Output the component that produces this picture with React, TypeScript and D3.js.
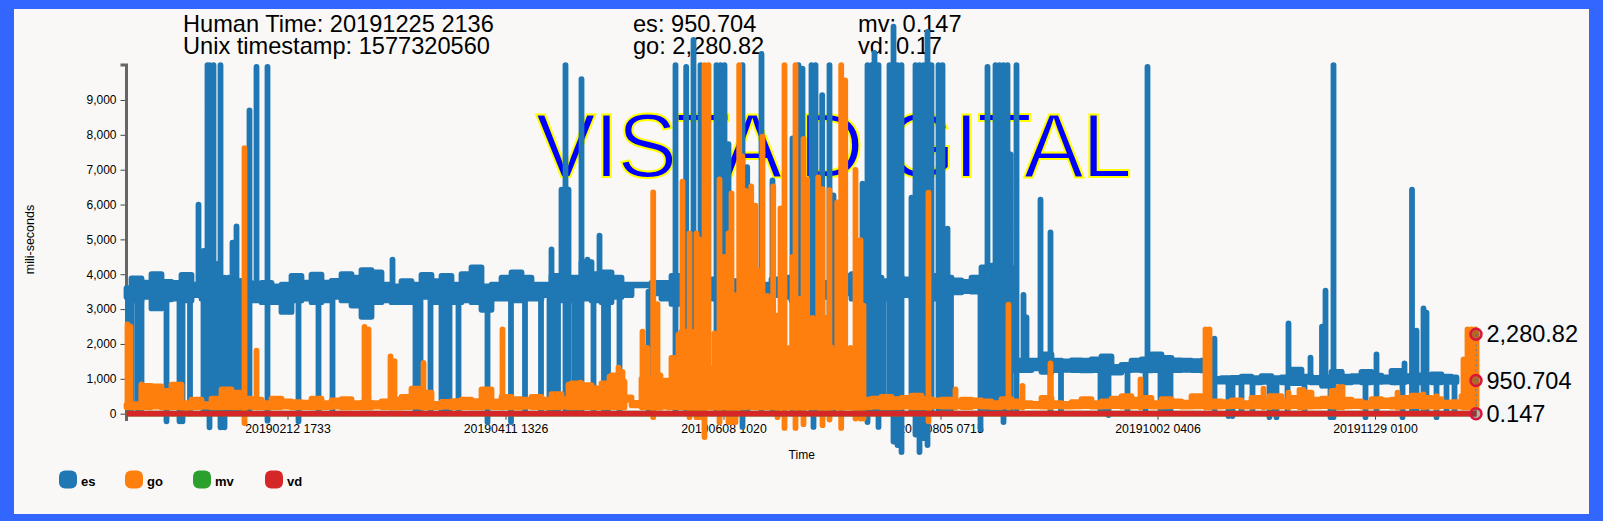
import React, { useEffect, useRef } from "react";
import * as d3 from "d3";

type Bar = [number, number, number];

const sampleDomain = [126, 1476];
const bandStart = 126;
const bandStep = 10;
const xTickSamples = [287, 505, 723, 940, 1157, 1374.5];
const xTickLabels = ["20190212 1733", "20190411 1326", "20190608 1020", "20190805 0715", "20191002 0406", "20191129 0100"];
const yTickValues = [0, 1000, 2000, 3000, 4000, 5000, 6000, 7000, 8000, 9000];
const legendNames = ["es", "go", "mv", "vd"];
const legendColors = ["#1f77b4", "#ff7f0e", "#2ca02c", "#d62728"];
const hoverValues = [2280.82, 950.704, 0.147];
const hoverLabels = ["2,280.82", "950.704", "0.147"];

const esHi = [
  3600, 3880, 3760, 4000, 3780, 3750, 3980, 3700, 3650, 3750,
  3750, 3800, 3750, 3700, 3750, 3650, 3700, 3950, 3760, 3990,
  3760, 3810, 4000, 3900, 4120, 4050, 3700, 3650, 3800, 3700,
  3980, 3800, 3950, 3700, 4000, 4200, 3650, 3700, 3900, 4050,
  3900, 3700, 3700, 3950, 3800, 3900, 4350, 4000, 4050, 3900,
  3700, 3700, 3700, 3750, 3750, 3950, 3800, 3750, 3700, 3850,
  3700, 3800, 3650, 3750, 3700, 3850, 3900, 3700, 3800, 3700,
  3750, 3650, 3950, 4000, 3700, 3900, 3800, 3950, 3850, 3900,
  3800, 3950, 3900, 3820, 3780, 3900, 4200, 4250, 4200, 1520,
  1520, 1520, 1700, 1520, 1500, 1530, 1520, 1560, 1640, 1340,
  1400, 1520, 1560, 1700, 1600, 1530, 1520, 1510, 1520, 1000,
  1020, 1030, 1060, 1020, 1080, 1020, 1040, 1260, 1060, 1030,
  1040, 1200, 1060, 1080, 1200, 1090, 1040, 1230, 1080, 1100,
  1080, 1130, 1060, 1040,
];
const esLo = [
  3350, 3250, 3350, 3020, 3280, 3300, 3250, 3400, 3300, 3350,
  3400, 3300, 3300, 3250, 3200, 3200, 2920, 3250, 3300, 3200,
  3250, 3350, 3250, 3100, 2780, 3200, 3250, 3200, 3200, 3350,
  3350, 3200, 3250, 3200, 3250, 3200, 2980, 3300, 3300, 3250,
  3300, 3300, 3400, 3350, 3250, 3350, 3300, 3250, 3200, 3350,
  3400, 3680, 3680, 3450, 3300, 3150, 3250, 3300, 3350, 3300,
  3300, 3400, 3350, 3250, 3300, 3400, 3350, 3250, 3300, 3400,
  3350, 3400, 3450, 3300, 3250, 3350, 3300, 3350, 3400, 3300,
  3350, 3300, 3450, 3480, 3520, 3500, 3300, 3350, 3300, 1250,
  1250, 1300, 1200, 1250, 1260, 1250, 1240, 1250, 1260, 1180,
  1250, 1260, 1240, 1250, 1260, 1250, 1260, 1250, 1240, 920,
  920, 900, 920, 900, 910, 920, 900, 880, 920, 900,
  910, 930, 900, 920, 900, 910, 920, 900, 930, 900,
  920, 900, 920, 910,
];
const esBars: Bar[] = [
  [128, 150, 3500], [131, 150, 3500], [137, 150, 3500], [141, 150, 3500], [166, -218, 3500], [179, -218, 3500], [182, -218, 3500], [189.5, 100, 3500],
  [198, 3500, 6000], [203, 100, 4670], [207, 100, 10000], [209, -390, 10000], [213, 100, 10000], [217, 100, 4300], [220, -390, 10000], [224, -390, 3900], [228, 100, 3900], [232, 100, 4910], [236, 100, 5370], [240, 100, 3800],
  [249, 100, 8700], [256, 3500, 9950], [267, -200, 9950], [298, -218, 3500], [318, 100, 3500], [332, 100, 3500], [392, 3500, 4420],
  [415, 100, 3500], [420, 100, 3500], [430, 100, 3500], [441, 100, 3500], [445, 100, 3500], [449, 100, 3500], [458, 100, 3500], [487, -240, 3500], [510.5, -240, 3500], [524.5, 100, 3500], [540.5, 100, 3500],
  [549, 100, 3500], [551, 100, 4710], [553, 100, 3500], [557.5, 100, 3500], [561, 3500, 6430], [565, 100, 10000], [568, 100, 6430], [574, 100, 3500], [578, 100, 3500], [581, 100, 9600], [587, 3500, 4420], [593, 100, 3500], [599, 3500, 5110], [603.5, 100, 3500], [607.5, 100, 3500], [619, 100, 3500], [648, 100, 3500],
  [675, 100, 10000], [685.7, 100, 9950], [693, 100, 10720], [700, 100, 10000], [716, 100, 10000], [720, 100, 10000], [724, 100, 10000], [728, 100, 7730],
  [742, -380, 10000], [746.7, 100, 7070], [761, 100, 10320], [772, 100, 6690], [792, 100, 7900], [798, 100, 10000], [802, 100, 9900], [811, 100, 10000], [813, -380, 3500], [815, 100, 10000], [821.7, 100, 9140], [829, 100, 10000], [833, 100, 6260],
  [862, 100, 6600], [867, -240, 10000], [871, 100, 10000], [874, 100, 10350], [878, -380, 10000], [883, 100, 3500],
  [889, 100, 10000], [893, -800, 11100], [897, -900, 10000], [901, -1100, 10000], [911, 100, 6200], [915, -600, 10000], [919, -1100, 10000], [923, -700, 10000], [927, -900, 10950], [931, 100, 10000],
  [938, 100, 10000], [942, 100, 10000], [947, 100, 5310], [950.5, 100, 3500], [980, -440, 3500], [984, 100, 3500], [987, 100, 9950], [992, 100, 3500], [995, 100, 10000], [999, 100, 10000], [1003, -240, 10000], [1007, 100, 10000], [1010, 100, 7440], [1016, 100, 10000],
  [1023, 1400, 3410], [1026, 1400, 2760], [1040, 1400, 6140], [1050, 100, 5200], [1060.5, 100, 1400], [1100, 100, 1500], [1104, 100, 1500], [1108, -40, 1500], [1127, 100, 1400], [1145, 100, 1400], [1147, 1300, 9950], [1160, 100, 1500], [1165, 100, 1500], [1170, 100, 1500],
  [1214, 100, 2150], [1228, -70, 1000], [1232, -70, 1000], [1241, 100, 1000], [1252, 100, 1000], [1269, -100, 1000], [1273, 100, 1000], [1276, -100, 1000], [1287, 100, 1000], [1288, 900, 2590], [1304, 100, 1000], [1310, 900, 1610], [1321.5, 800, 2500], [1325, 800, 3530],
  [1330, -100, 1000], [1333, -100, 10000], [1341, 800, 1200], [1365, -100, 1000], [1376, 100, 1700], [1394, 900, 1200], [1402, -100, 1000], [1404, 900, 1440], [1411.5, 100, 6430], [1416, 100, 2380], [1423, 100, 3020], [1426, 100, 2900], [1436, -100, 1000], [1446, 100, 1000], [1454, 100, 1000],
];

const goHi = [
  250, 270, 800, 780, 650, 830, 300, 400, 270, 430,
  700, 600, 430, 400, 300, 430, 350, 330, 320, 430,
  300, 380, 420, 300, 320, 300, 350, 400, 480, 720,
  600, 280, 340, 360, 400, 360, 700, 350, 480, 420,
  400, 480, 400, 560, 420, 870, 820, 600, 870, 1100,
  470, 310, 1000, 500, 950, 1600, 2350, 1500, 1300, 1300,
  1800, 1900, 1700, 1900, 1800, 1900, 1800, 1900, 1900, 1800,
  1900, 1800, 1800, 1800, 400, 430, 480, 420, 450, 520,
  420, 380, 400, 350, 400, 380, 350, 300, 420, 350,
  300, 280, 450, 300, 280, 330, 420, 300, 350, 430,
  500, 400, 450, 300, 420, 350, 320, 500, 300, 350,
  330, 380, 300, 450, 350, 500, 350, 450, 600, 400,
  430, 650, 400, 350, 300, 420, 380, 400, 450, 520,
  450, 420, 320, 330, 500, 2280,
];
const goLo = [
  190, 180, 190, 200, 180, 190, 170, 190, 200, 180,
  190, 180, 200, 190, 180, 190, 200, 180, 190, 180,
  190, 200, 180, 190, 180, 200, 190, 180, 190, 200,
  180, 190, 200, 180, 190, 180, 200, 190, 190, 180,
  200, 190, 180, 190, 200, 180, 190, 180, 200, 190,
  400, 240, 190, 180, 200, 190, 180, 190, 200, 180,
  190, 180, 200, 190, 180, 190, 200, 180, 190, 180,
  200, 190, 180, 190, 190, 200, 180, 190, 200, 180,
  190, 220, 200, 210, 190, 220, 200, 190, 210, 200,
  220, 210, 200, 220, 200, 210, 220, 200, 210, 220,
  200, 210, 220, 200, 210, 220, 200, 210, 220, 200,
  210, 220, 200, 210, 220, 200, 210, 220, 200, 210,
  220, 200, 210, 220, 200, 210, 220, 200, 210, 220,
  200, 210, 220, 200, 210, 220,
];
const goBars: Bar[] = [
  [127, 180, 2560], [130, 180, 2500], [141, 180, 840], [149, 180, 760], [244, -270, 7620], [256, 180, 1810], [364, 180, 2490], [368, 180, 2420], [390, 180, 1640], [394, 180, 1510],
  [423, 180, 1460], [482, 180, 650], [502, 180, 2420], [568, 180, 830], [580, 180, 890], [592, 180, 740], [596, 180, 740], [604, 180, 850], [609, 180, 1060], [618, 180, 1320], [622, 180, 1200], [624, 180, 920],
  [642, 180, 2350], [646.7, 180, 1890], [652.7, -100, 6350], [657, 180, 3140], [660, 180, 1100], [668, 180, 890], [673, 180, 1560], [678, 180, 2270], [682, 180, 6660], [686, 180, 2320], [689, -100, 5170], [693, 180, 1500], [696, -100, 5170], [699, -100, 5000],
  [704, -670, 10000], [708, 180, 10000], [711, 180, 1230], [714, 180, 2300], [719, -240, 6720], [723, 180, 4500], [728, -240, 5170], [731, -240, 6320], [735, -240, 3400], [738.7, 180, 10000], [741.7, 180, 7380], [745, 180, 6400], [750.7, 180, 6520], [755, 180, 5970], [758, 180, 4100], [762, 180, 7950], [767, 180, 3380],
  [772.7, 180, 6520], [777, -100, 2810], [780, 180, 5890], [784, -410, 10000], [789, 180, 1890], [792, 180, 4500], [795, -410, 10000], [799, 180, 3300], [803, -300, 7880], [806.7, 180, 6720], [812, 180, 2750], [817.7, 180, 6780], [822, -330, 6440], [825, 180, 2750], [829, -170, 6410], [833, 180, 1400], [836.7, 180, 6060], [840.7, -410, 10000], [844.7, 180, 9560], [850, 180, 1890], [855, -140, 6990], [860, -140, 4980], [863, -140, 3100],
  [928, -220, 6340], [955, 180, 700], [1008, 180, 3130], [1022, 180, 800], [1050, 180, 1440], [1140, 180, 980], [1205, 180, 2420], [1209, 180, 2420], [1263, 180, 720], [1269, 180, 500], [1288, 180, 600], [1299, 180, 680], [1303, 180, 680], [1338, 180, 770], [1342, 180, 770], [1397, 180, 600], [1423, 180, 550], [1436, 180, 500],
  [1463, 180, 1560], [1467, 180, 2420], [1471, 180, 2420], [1475, 180, 2420],
];

const lowSamples = [126, 400, 800, 1200, 1476];
const mvValues = [0.2, 0.16, 0.18, 0.15, 0.147];
const vdValues = [0.21, 0.18, 0.2, 0.16, 0.17];

const FONT = "'Liberation Sans', Arial, sans-serif";

export default function App() {
  const xAxisRef = useRef<SVGGElement>(null);
  const yAxisRef = useRef<SVGGElement>(null);

  const x = d3.scaleLinear().domain(sampleDomain).range([126.5, 1476.5]);
  const y = d3.scaleLinear().domain([-210, 10000]).range([421, 65.1]);

  useEffect(() => {
    const xa = d3.axisBottom(x).tickValues(xTickSamples).tickSize(6).tickPadding(4.5)
      .tickFormat((_, i) => xTickLabels[i]);
    const ya = d3.axisLeft(y).tickValues(yTickValues).tickSize(6).tickPadding(4)
      .tickFormat(d3.format(","));
    const sx = d3.select(xAxisRef.current!).call(xa as any);
    const sy = d3.select(yAxisRef.current!).call(ya as any);
    sx.select(".domain").remove();
    sy.select(".domain").remove();
    sx.attr("font-family", FONT).attr("font-size", 12.3);
    sy.attr("font-family", FONT).attr("font-size", 12);
    [sx, sy].forEach((s) => s.selectAll("line").attr("stroke", "#444"));
  }, []);

  const line = d3.line<[number, number]>().x((d) => x(d[0])).y((d) => y(d[1]));
  const band = (hi: number[], lo: number[]) =>
    d3.area<number>()
      .curve(d3.curveStep)
      .x((_, i) => x(bandStart + i * bandStep))
      .y1((d) => y(d))
      .y0((_, i) => y(lo[i]))(hi) ?? "";
  const bars = (list: Bar[]) =>
    list.map((b) => line([[b[0], b[1]], [b[0], b[2]]])).join("");
  const lineStyle = { strokeWidth: 5.8, strokeLinejoin: "round" as const, strokeLinecap: "round" as const };
  const endX = x(sampleDomain[1]) - 0.5;

  return (
    <svg width={1603} height={521} style={{ position: "fixed", left: 0, top: 0, display: "block" }} fontFamily={FONT}>
      <rect x={0} y={0} width={1603} height={521} fill="#3366ff" />
      <rect x={14} y={9} width={1575} height={505} fill="#faf8f6" />

      <g fontSize={23.6} fill="#000">
        <text x={183} y={32}>Human Time: 20191225 2136</text>
        <text x={183} y={53.5}>Unix timestamp: 1577320560</text>
        <text x={633} y={32}>es: 950.704</text>
        <text x={633} y={53.5}>go: 2,280.82</text>
        <text x={858} y={32}>mv: 0.147</text>
        <text x={858} y={53.5}>vd: 0.17</text>
      </g>

      <text x={833} y={177} textAnchor="middle" fontSize={90} letterSpacing={-1.7} fill="#0000ff" stroke="#ffff00" strokeWidth={2}>VISTA DIGITAL</text>

      <g ref={xAxisRef} transform="translate(0,413.7)" />
      <g ref={yAxisRef} transform="translate(126.5,0)" />
      <path d={`M120.5,${y(10000)}H126.5V421`} fill="none" stroke="#666" strokeWidth={3} />
      <text x={801.7} y={459} textAnchor="middle" fontSize={12}>Time</text>
      <text transform="translate(34,239.5) rotate(-90)" textAnchor="middle" fontSize={12.5}>mili-seconds</text>

      <path d={band(esHi, esLo)} fill={legendColors[0]} stroke={legendColors[0]} {...lineStyle} />
      <path d={bars(esBars)} fill="none" stroke={legendColors[0]} {...lineStyle} />
      <path d={band(goHi, goLo)} fill={legendColors[1]} stroke={legendColors[1]} {...lineStyle} />
      <path d={bars(goBars)} fill="none" stroke={legendColors[1]} {...lineStyle} />
      <path d={line(lowSamples.map((s, i): [number, number] => [s, mvValues[i]])) ?? ""} fill="none" stroke={legendColors[2]} {...lineStyle} strokeLinecap="butt" />
      <path d={line(lowSamples.map((s, i): [number, number] => [s, vdValues[i]])) ?? ""} fill="none" stroke={legendColors[3]} {...lineStyle} strokeLinecap="butt" />

      <line x1={endX} x2={endX} y1={y(hoverValues[0])} y2={y(hoverValues[2])} stroke="#888" strokeWidth={2} strokeDasharray="2 3" />
      {hoverValues.map((v, i) => (
        <g key={i}>
          <circle cx={endX} cy={y(v)} r={5.5} fill="rgba(70,70,70,0.4)" stroke="#dc143c" strokeWidth={2.5} />
          <rect x={1486} y={y(v) - 11 + (i === 2 ? -1 : 0)} width={hoverLabels[i].length * 11.5} height={21} fill="#f0f5fa" opacity={0.6} />
          <text x={1486.5} y={y(v) + 8.2} fontSize={23.5} fill="#000">{hoverLabels[i]}</text>
        </g>
      ))}

      {legendNames.map((n, i) => {
        const lx = [59, 125, 193, 265][i];
        return (
          <g key={n}>
            <rect x={lx} y={470.5} width={18} height={18} rx={6} fill={legendColors[i]} />
            <text x={lx + 22} y={486} fontSize={13} fontWeight="bold" fill="#000">{n}</text>
          </g>
        );
      })}
    </svg>
  );
}
